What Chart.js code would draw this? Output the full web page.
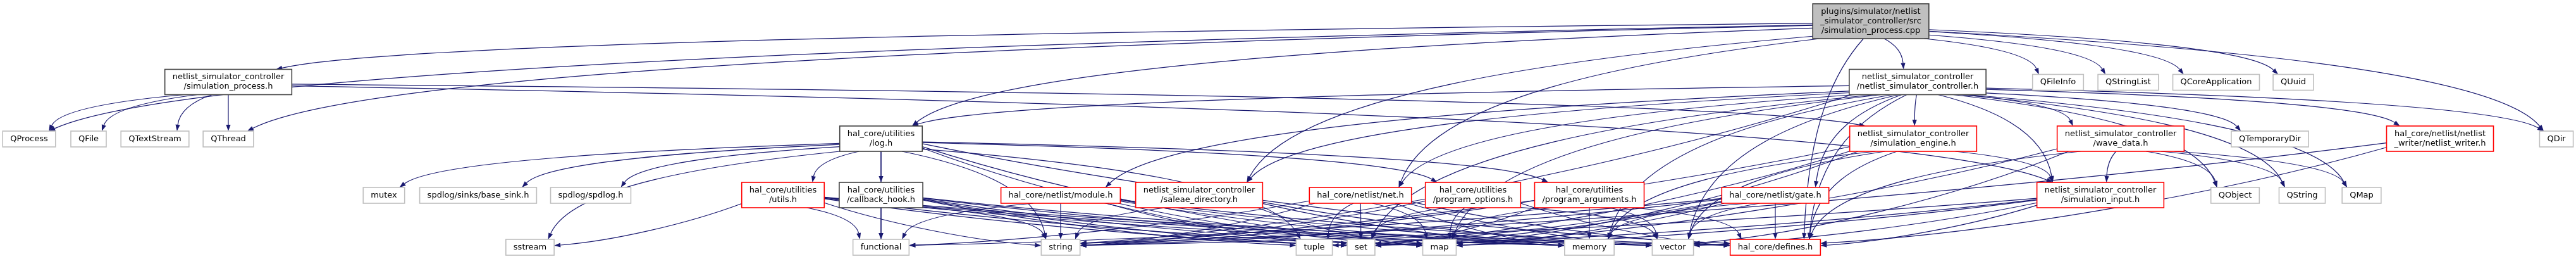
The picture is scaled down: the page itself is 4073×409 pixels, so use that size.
<!DOCTYPE html>
<html>
<head>
<meta charset="utf-8">
<script src="https://cdn.jsdelivr.net/npm/chart.js@4.4.1/dist/chart.umd.min.js"></script>
<style>
  html, body { margin: 0; padding: 0; background: #ffffff; }
  #wrap { width: 4073px; height: 409px; }
</style>
</head>
<body>
<div id="wrap"><canvas id="graph" width="4073" height="409"></canvas></div>
<script>
// nodes of the include graph
const nodeIds = [
  'root', 'sproc', 'nsc', 'QFileInfo', 'QStringList', 'QCoreApplication', 'QUuid',
  'QProcess', 'QFile', 'QTextStream', 'QThread', 'log', 'engine', 'wave', 'QTemporaryDir', 'writer', 'QDir',
  'mutex', 'base_sink', 'spdlog', 'utils', 'callback', 'module', 'saleae', 'net', 'popts', 'pargs', 'gate',
  'input', 'QObject', 'QString', 'QMap',
  'sstream', 'functional', 'string', 'tuple', 'set', 'map', 'memory', 'vector', 'defines'
];
const nodeLabels = [
  'plugins/simulator/netlist\n_simulator_controller/src\n/simulation_process.cpp',
  'netlist_simulator_controller\n/simulation_process.h',
  'netlist_simulator_controller\n/netlist_simulator_controller.h',
  'QFileInfo', 'QStringList', 'QCoreApplication', 'QUuid',
  'QProcess', 'QFile', 'QTextStream', 'QThread',
  'hal_core/utilities\n/log.h',
  'netlist_simulator_controller\n/simulation_engine.h',
  'netlist_simulator_controller\n/wave_data.h',
  'QTemporaryDir',
  'hal_core/netlist/netlist\n_writer/netlist_writer.h',
  'QDir',
  'mutex', 'spdlog/sinks/base_sink.h', 'spdlog/spdlog.h',
  'hal_core/utilities\n/utils.h',
  'hal_core/utilities\n/callback_hook.h',
  'hal_core/netlist/module.h',
  'netlist_simulator_controller\n/saleae_directory.h',
  'hal_core/netlist/net.h',
  'hal_core/utilities\n/program_options.h',
  'hal_core/utilities\n/program_arguments.h',
  'hal_core/netlist/gate.h',
  'netlist_simulator_controller\n/simulation_input.h',
  'QObject', 'QString', 'QMap',
  'sstream', 'functional', 'string', 'tuple', 'set', 'map', 'memory', 'vector',
  'hal_core/defines.h'
];
// root = the file itself, doc = documented header, trunc = header with hidden includes, ext = external
const nodeKinds = [
  'root', 'doc', 'doc', 'ext', 'ext', 'ext', 'ext',
  'ext', 'ext', 'ext', 'ext', 'doc', 'trunc', 'trunc', 'ext', 'trunc', 'ext',
  'ext', 'ext', 'ext', 'trunc', 'doc', 'trunc', 'trunc', 'trunc', 'trunc', 'trunc', 'trunc',
  'trunc', 'ext', 'ext', 'ext',
  'ext', 'ext', 'ext', 'ext', 'ext', 'ext', 'ext', 'ext', 'trunc'
];
const nodeX = [
  2958, 361, 3032, 3254, 3365, 3504, 3626,
  46, 140, 245, 361, 1393, 3025, 3353, 3589, 3858, 4042,
  607, 756, 934, 1238, 1393, 1677, 1896, 2151, 2329, 2513, 2807,
  3321, 3534, 3640, 3734,
  838, 1393, 1677, 2078, 2152, 2276, 2513, 2645, 2807
];
const nodeY = [
  33.5, 129.5, 129.5, 130, 130, 130, 130,
  219.5, 219.5, 219.5, 219.5, 219, 219, 219, 219.5, 219, 219.5,
  308.5, 308.5, 308.5, 308, 308, 308.5, 308, 308.5, 308, 308, 308.5,
  308, 308.5, 308.5, 308.5,
  390.5, 390.5, 390.5, 390.5, 390.5, 390.5, 390.5, 390.5, 390.5
];

// include edges: [file, [included files]]
const includes = [
  ['root', ['sproc', 'nsc', 'log', 'saleae', 'net', 'defines', 'QProcess', 'QThread', 'QFileInfo', 'QStringList', 'QCoreApplication', 'QUuid', 'QDir']],
  ['sproc', ['QProcess', 'QFile', 'QTextStream', 'QThread', 'engine', 'input']],
  ['nsc', ['engine', 'wave', 'input', 'QTemporaryDir', 'QObject', 'QString', 'QMap', 'writer', 'QDir', 'defines', 'log', 'module', 'saleae', 'net', 'gate', 'memory', 'map', 'set', 'vector', 'string']],
  ['engine', ['input', 'defines', 'string', 'vector', 'memory', 'map', 'set']],
  ['wave', ['input', 'QObject', 'QString', 'QMap', 'vector', 'map', 'defines']],
  ['input', ['defines', 'vector', 'string', 'set', 'map']],
  ['writer', ['defines', 'string']],
  ['log', ['utils', 'callback', 'mutex', 'base_sink', 'spdlog', 'popts', 'pargs', 'defines', 'sstream', 'functional', 'string', 'set', 'map', 'tuple']],
  ['utils', ['sstream', 'functional', 'string', 'vector', 'set', 'map', 'memory', 'defines']],
  ['callback', ['functional', 'string', 'tuple', 'map', 'set', 'memory', 'vector']],
  ['module', ['functional', 'string', 'set', 'map', 'vector', 'memory', 'defines']],
  ['saleae', ['string', 'vector', 'map', 'memory']],
  ['net', ['tuple', 'set', 'map', 'string', 'memory', 'vector', 'functional', 'defines']],
  ['popts', ['set', 'map', 'string', 'vector', 'defines']],
  ['pargs', ['memory', 'vector', 'defines', 'string', 'map', 'set']],
  ['gate', ['defines', 'vector', 'memory', 'set', 'map', 'string', 'functional', 'tuple']]
];

const EDGE = '#191970';
const BORDER = { root: '#404040', doc: '#404040', trunc: '#ff0000', ext: '#bfbfbf' };

function drawEdge(ctx, s, t) {
  const dx = t.cx - s.cx, dy = t.cy - s.cy;
  const k = Math.min(s.hw / Math.max(Math.abs(dx), 1e-6), s.hh / Math.max(Math.abs(dy), 1e-6));
  const p0 = { x: s.cx + dx * k, y: s.cy + dy * k };
  const tdx = p0.x - t.cx, tdy = p0.y - t.cy;
  let p3, c1, c2;
  if (t.lastRow && Math.abs(tdx) > 4 * Math.abs(tdy)) {
    // long flat edge into the bottom row: comes in from the side
    const sgn = Math.sign(tdx);
    p3 = { x: t.cx + sgn * t.hw, y: t.cy + Math.max(-t.hh * 0.5, Math.min(t.hh * 0.5, tdy * 0.04)) };
    const ex = p3.x - p0.x, ey = p3.y - p0.y;
    c1 = { x: p0.x + ex * 0.3, y: p0.y + ey * 0.5 };
    c2 = { x: p3.x - ex * 0.3, y: p3.y - ey * 0.1 };
  } else {
    const off = Math.max(-0.75 * t.hw, Math.min(0.75 * t.hw, -dx * 0.3));
    p3 = { x: t.cx + off, y: t.cy - t.hh };
    const ex = p3.x - p0.x, ey = p3.y - p0.y;
    c1 = { x: p0.x + ex * 0.45, y: p0.y + ey * 0.15 };
    c2 = { x: p3.x - ex * 0.08, y: p3.y - ey * 0.6 };
  }
  let ax = p3.x - c2.x, ay = p3.y - c2.y;
  const L = Math.hypot(ax, ay) || 1;
  ax /= L; ay /= L;
  const len = 10, half = 3.6;
  const bx = p3.x - ax * len, by = p3.y - ay * len;
  ctx.beginPath();
  ctx.moveTo(p0.x, p0.y);
  ctx.bezierCurveTo(c1.x, c1.y, c2.x, c2.y, bx, by);
  ctx.stroke();
  ctx.beginPath();
  ctx.moveTo(p3.x, p3.y);
  ctx.lineTo(bx - ay * half, by + ax * half);
  ctx.lineTo(bx + ay * half, by - ax * half);
  ctx.closePath();
  ctx.fill();
}

const graphPlugin = {
  id: 'depGraph',
  afterDatasetsDraw(chart) {
    const ctx = chart.ctx, xs = chart.scales.x, ys = chart.scales.y;
    ctx.save();
    ctx.font = '13px "DejaVu Sans"';
    const lowest = Math.max(...nodeY);
    const boxes = {};
    nodeIds.forEach((id, i) => {
      const lines = nodeLabels[i].split('\n');
      const tw = Math.max(...lines.map(l => ctx.measureText(l).width));
      boxes[id] = {
        cx: xs.getPixelForValue(nodeX[i]),
        cy: ys.getPixelForValue(nodeY[i]),
        hw: (tw + 24) / 2,
        hh: (10 + 15 * lines.length) / 2,
        lines: lines,
        kind: nodeKinds[i],
        lastRow: nodeY[i] === lowest
      };
    });

    ctx.strokeStyle = EDGE;
    ctx.fillStyle = EDGE;
    ctx.lineWidth = 1.2;
    includes.forEach(([src, targets]) => {
      targets.forEach(t => drawEdge(ctx, boxes[src], boxes[t]));
    });

    nodeIds.forEach(id => {
      const b = boxes[id];
      ctx.fillStyle = b.kind === 'root' ? '#bfbfbf' : '#ffffff';
      ctx.strokeStyle = BORDER[b.kind];
      ctx.lineWidth = 1.6;
      ctx.fillRect(b.cx - b.hw, b.cy - b.hh, b.hw * 2, b.hh * 2);
      ctx.strokeRect(b.cx - b.hw, b.cy - b.hh, b.hw * 2, b.hh * 2);
      ctx.fillStyle = '#000000';
      ctx.textAlign = 'center';
      ctx.textBaseline = 'middle';
      const n = b.lines.length;
      b.lines.forEach((l, j) => ctx.fillText(l, b.cx, b.cy + (j - (n - 1) / 2) * 15));
    });
    ctx.restore();
  }
};

new Chart(document.getElementById('graph'), {
  type: 'scatter',
  data: {
    datasets: [{
      data: nodeIds.map((id, i) => ({ x: nodeX[i], y: nodeY[i] })),
      pointRadius: 0
    }]
  },
  options: {
    responsive: false,
    animation: false,
    layout: { padding: 0 },
    scales: {
      x: { type: 'linear', min: 0, max: 4073, display: false },
      y: { type: 'linear', min: 0, max: 409, reverse: true, display: false }
    },
    plugins: { legend: { display: false }, tooltip: { enabled: false } }
  },
  plugins: [graphPlugin]
});
</script>
</body>
</html>
